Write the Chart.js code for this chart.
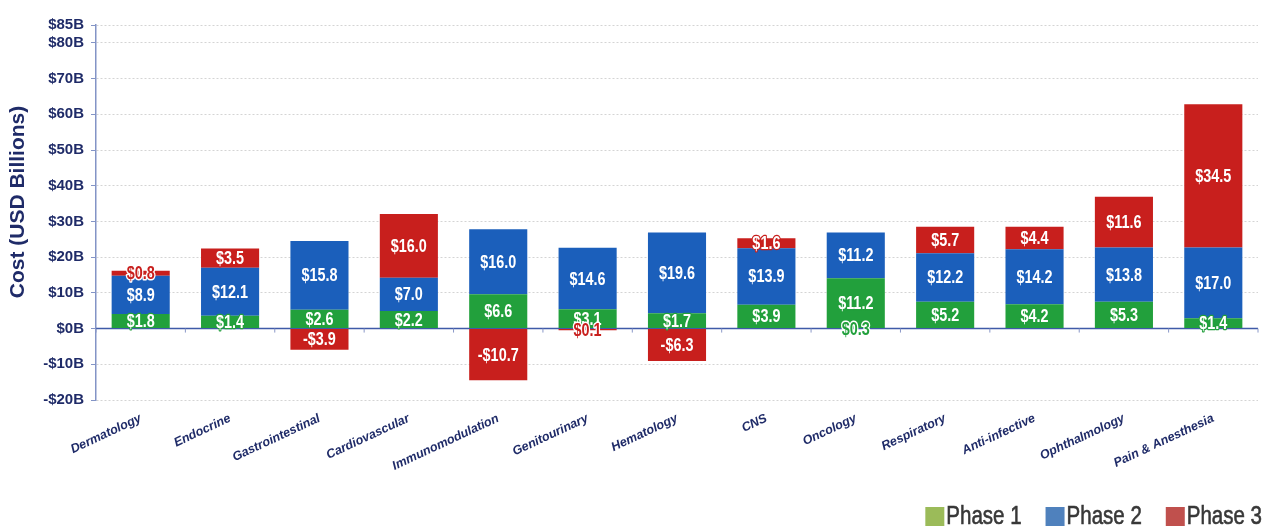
<!DOCTYPE html>
<html><head><meta charset="utf-8">
<script src="https://cdn.jsdelivr.net/npm/chart.js@4.4.1/dist/chart.umd.min.js"></script>
<style>html,body{margin:0;padding:0;background:#fff;overflow:hidden}#wrap{width:1266px;height:526px;position:relative}</style>
</head><body><div id="wrap"><canvas id="c"></canvas></div>
<script>
const categories = ['Dermatology','Endocrine','Gastrointestinal','Cardiovascular','Immunomodulation','Genitourinary','Hematology','CNS','Oncology','Respiratory','Anti-infective','Ophthalmology','Pain & Anesthesia'];
const seriesNames = ['Phase 1','Phase 2','Phase 3'];
// bar segment heights as drawn in the picture (USD billions)
const phase1 = [4.1, 3.6, 5.3, 4.9, 9.6, 5.4, 4.3, 6.7, 14.1, 7.5, 6.8, 7.5, 2.9];
const phase2 = [10.7, 13.4, 19.2, 9.3, 18.2, 17.2, 22.6, 15.8, 12.8, 13.6, 15.4, 15.2, 19.8];
const phase3 = [1.4, 5.4, -5.9, 17.9, -14.5, -0.5, -9.1, 2.8, 0, 7.4, 6.3, 14.2, 40.1];
// value labels printed on the segments
const phase1Labels = ['$1.8','$1.4','$2.6','$2.2','$6.6','$3.1','$1.7','$3.9','$11.2','$5.2','$4.2','$5.3','$1.4'];
const phase2Labels = ['$8.9','$12.1','$15.8','$7.0','$16.0','$14.6','$19.6','$13.9','$11.2','$12.2','$14.2','$13.8','$17.0'];
const phase3Labels = ['$0.8','$3.5','-$3.9','$16.0','-$10.7','$0.1','-$6.3','$1.6','$0.3','$5.7','$4.4','$11.6','$34.5'];
const yTicks = [-20,-10,0,10,20,30,40,50,60,70,80,85];
const yTitle = 'Cost (USD Billions)';

const FAM = '"Liberation Sans", Arial, Helvetica, sans-serif';
const NAVY = '#1f2b68';
const barColors = ['#22a03c', '#1b5fbb', '#c81f1d'];
const legendColors = ['#9bbb59', '#4f81bd', '#c0504d'];
const labelSets = [phase1Labels, phase2Labels, phase3Labels];
const tintOverride = {'2:8': barColors[0]};

const barLabels = {
  id: 'barLabels',
  afterDatasetsDraw(chart) {
    const ctx = chart.ctx;
    const y0 = chart.scales.y.getPixelForValue(0);
    chart.data.datasets.forEach((ds, i) => {
      const meta = chart.getDatasetMeta(i);
      meta.data.forEach((el, j) => {
        const txt = labelSets[i][j];
        if (!txt) return;
        const p = el.getProps(['x', 'y', 'base'], true);
        const h = Math.abs(p.base - p.y);
        const cy = ds.data[j] === 0 ? y0 : (p.y + p.base) / 2;
        const tint = tintOverride[i + ':' + j] || ds.backgroundColor;
        ctx.save();
        ctx.translate(p.x, cy + 1);
        ctx.scale(0.8, 1);
        ctx.font = 'bold 18px ' + FAM;
        ctx.textAlign = 'center';
        ctx.textBaseline = 'middle';
        ctx.lineJoin = 'round';
        if (h >= 7) { ctx.fillStyle = '#ffffff'; ctx.strokeStyle = tint; ctx.lineWidth = 2.5; }
        else { ctx.fillStyle = tint; ctx.strokeStyle = '#ffffff'; ctx.lineWidth = 3; }
        ctx.strokeText(txt, 0, 0);
        ctx.fillText(txt, 0, 0);
        ctx.restore();
      });
    });
  }
};

const zeroLine = {
  id: 'zeroLine',
  beforeDatasetsDraw(chart) {
    const {ctx, chartArea, scales} = chart;
    const y0 = scales.y.getPixelForValue(0);
    ctx.save();
    ctx.strokeStyle = '#3f5aa8';
    ctx.lineWidth = 1.5;
    ctx.beginPath();
    ctx.moveTo(chartArea.left, y0);
    ctx.lineTo(chartArea.right, y0);
    ctx.stroke();
    ctx.lineWidth = 1;
    ctx.strokeStyle = '#8a98c8';
    const n = categories.length;
    for (let k = 0; k <= n; k++) {
      const x = scales.x.getPixelForValue(k - 0.5);
      ctx.beginPath(); ctx.moveTo(x, y0); ctx.lineTo(x, y0 + 4); ctx.stroke();
    }
    ctx.restore();
  }
};

const extras = {
  id: 'extras',
  afterDraw(chart) {
    const ctx = chart.ctx;
    // y axis title
    ctx.save();
    ctx.translate(18, 202);
    ctx.rotate(-Math.PI / 2);
    ctx.font = 'bold 21px ' + FAM;
    ctx.fillStyle = NAVY;
    ctx.textAlign = 'center';
    ctx.textBaseline = 'middle';
    ctx.fillText(yTitle, 0, 0);
    ctx.restore();
    // legend
    ctx.save();
    ctx.font = '25px ' + FAM;
    const sx = 0.82, box = 19, gap = 2, space = 24;
    const widths = seriesNames.map(s => ctx.measureText(s).width * sx);
    let total = 0;
    widths.forEach((w, i) => { total += box + gap + w + (i ? space : 0); });
    let x = chart.width - 4 - total;
    seriesNames.forEach((s, i) => {
      ctx.fillStyle = legendColors[i];
      ctx.fillRect(x, 507, box, 20);
      ctx.save();
      ctx.translate(x + box + gap, 524);
      ctx.scale(sx, 1);
      ctx.fillStyle = '#383838';
      ctx.strokeStyle = '#383838';
      ctx.lineWidth = 0.6;
      ctx.textBaseline = 'alphabetic';
      ctx.fillText(s, 0, 0);
      ctx.strokeText(s, 0, 0);
      ctx.restore();
      x += box + gap + widths[i] + space;
    });
    ctx.restore();
  }
};

new Chart(document.getElementById('c'), {
  type: 'bar',
  data: {
    labels: categories,
    datasets: [
      {label: seriesNames[0], data: phase1, backgroundColor: barColors[0]},
      {label: seriesNames[1], data: phase2, backgroundColor: barColors[1]},
      {label: seriesNames[2], data: phase3, backgroundColor: barColors[2]}
    ]
  },
  options: {
    responsive: true,
    maintainAspectRatio: false,
    animation: false,
    devicePixelRatio: 1,
    barPercentage: 0.65,
    categoryPercentage: 1,
    layout: {padding: {top: 25, right: 8, bottom: 30, left: 0}},
    plugins: {legend: {display: false}, tooltip: {enabled: false}},
    scales: {
      x: {
        stacked: true,
        grid: {display: false},
        border: {display: false},
        ticks: {
          autoSkip: false, maxRotation: 25, minRotation: 25, padding: 3,
          color: NAVY,
          font: {family: FAM, size: 12.5, weight: 'bold', style: 'italic'}
        },
        afterFit: s => { s.height = 96; }
      },
      y: {
        stacked: true,
        min: -20, max: 85,
        afterBuildTicks: s => { s.ticks = yTicks.map(v => ({value: v})); },
        ticks: {
          padding: 7,
          color: NAVY,
          font: {family: FAM, size: 15, weight: 'bold'},
          callback: v => (v < 0 ? '-$' + Math.abs(v) : '$' + v) + 'B'
        },
        grid: {
          color: c => (c.tick && c.tick.value === 0) ? 'rgba(0,0,0,0)' : '#d4d4d4',
          lineWidth: 1,
          tickColor: '#8394c6',
          tickLength: 5
        },
        border: {display: true, color: '#8394c6', width: 1.5, dash: [2, 2]},
        afterFit: s => { s.width = 96; }
      }
    }
  },
  plugins: [zeroLine, barLabels, extras]
});
</script></body></html>
